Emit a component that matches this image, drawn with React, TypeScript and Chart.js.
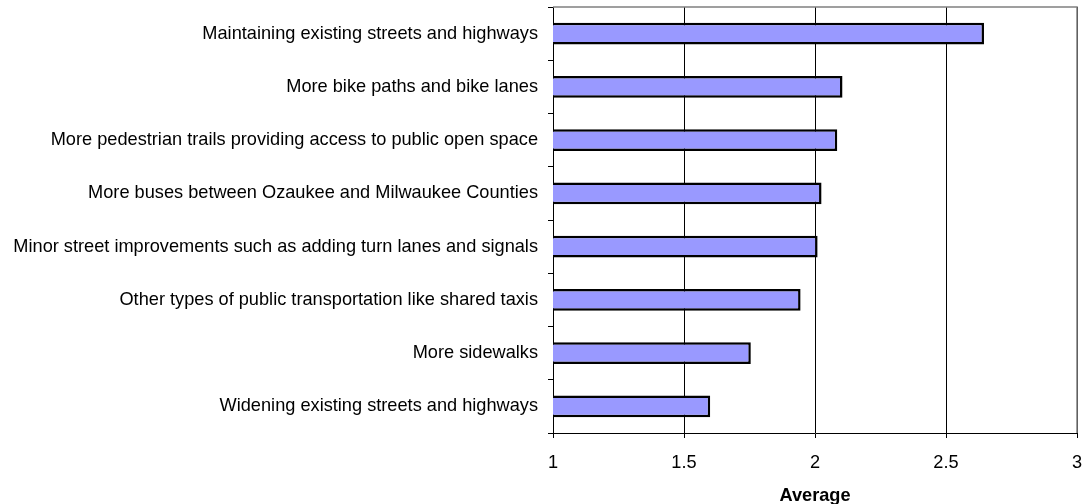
import React, { useEffect, useRef } from 'react';
import { Chart, registerables } from 'chart.js';

Chart.register(...registerables);

const categories = [
  'Maintaining existing streets and highways',
  'More bike paths and bike lanes',
  'More pedestrian trails providing access to public open space',
  'More buses between Ozaukee and Milwaukee Counties',
  'Minor street improvements such as adding turn lanes and signals',
  'Other types of public transportation like shared taxis',
  'More sidewalks',
  'Widening existing streets and highways',
];

const averages = [2.645, 2.105, 2.085, 2.025, 2.01, 1.945, 1.755, 1.6];

const xTicks = [1, 1.5, 2, 2.5, 3];
const xTitle = 'Average';

const FONT = 'Liberation Sans, Arial, sans-serif';
const FONT_SIZE = 18.2;

const frameBorder = {
  id: 'frameBorder',
  afterDatasetsDraw(chart: any) {
    const { ctx, chartArea } = chart;
    const { left, right, top, bottom } = chartArea;
    ctx.save();
    ctx.strokeStyle = '#808080';
    ctx.lineWidth = 1.5;
    ctx.beginPath();
    ctx.moveTo(left, top);
    ctx.lineTo(right, top);
    ctx.lineTo(right, bottom);
    ctx.stroke();
    ctx.restore();
  },
};

export default function App() {
  const ref = useRef<HTMLCanvasElement>(null);
  useEffect(() => {
    const chart = new Chart(ref.current!, {
      type: 'bar',
      data: {
        labels: categories,
        datasets: [
          {
            data: averages,
            backgroundColor: '#9999ff',
            borderColor: '#000000',
            borderWidth: 2.5,
            borderSkipped: false,
            barPercentage: 0.41,
            categoryPercentage: 1,
          },
        ],
      },
      options: {
        indexAxis: 'y',
        responsive: false,
        animation: false,
        devicePixelRatio: 1,
        layout: { padding: { top: 7, right: 8, bottom: 0, left: 0 } },
        plugins: { legend: { display: false }, tooltip: { enabled: false } },
        scales: {
          x: {
            type: 'linear',
            min: 1,
            max: 3,
            afterBuildTicks: (s: any) => {
              s.ticks = xTicks.map((v) => ({ value: v }));
            },
            ticks: {
              font: { family: FONT, size: FONT_SIZE },
              color: '#000',
              padding: 14,
              maxRotation: 0,
              callback: (v: any) => String(v),
            },
            grid: { color: '#000', tickLength: 5, lineWidth: 1 },
            border: { color: '#000', width: 1 },
            title: {
              display: true,
              text: xTitle,
              color: '#000',
              font: { family: FONT, size: FONT_SIZE, weight: 'bold', lineHeight: 0.8 },
              padding: { top: 0, bottom: 1 },
            },
            afterFit: (s: any) => {
              s.height = 71;
              s.paddingLeft = 0;
              s.paddingRight = 0;
            },
          },
          y: {
            ticks: { font: { family: FONT, size: FONT_SIZE }, color: '#000', padding: 10 },
            grid: { drawOnChartArea: false, tickLength: 5, color: '#000' },
            border: { color: '#000', width: 1 },
            afterFit: (s: any) => {
              s.width = 553;
              s.paddingTop = 0;
              s.paddingBottom = 0;
            },
          },
        },
      },
      plugins: [frameBorder],
    } as any);
    return () => chart.destroy();
  }, []);
  return (
    <div style={{ position: 'fixed', left: 0, top: 0, width: 1085, height: 504, background: '#fff' }}>
      <canvas ref={ref} width={1085} height={504} style={{ display: 'block' }} />
    </div>
  );
}
